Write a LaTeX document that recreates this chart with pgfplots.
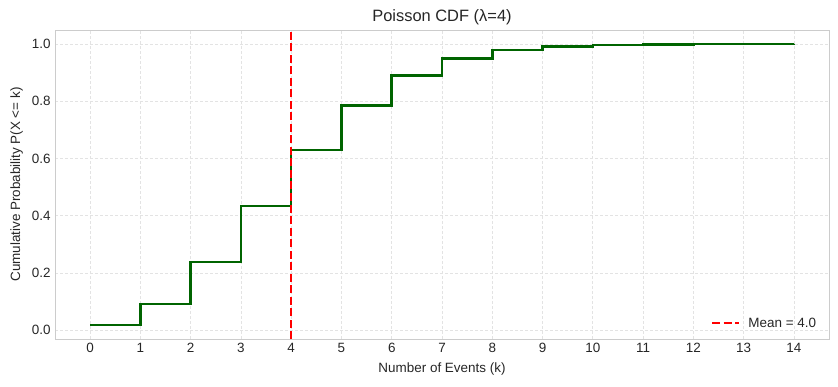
\documentclass[border=0pt]{standalone}
\usepackage{pgfplots}
\pgfplotsset{compat=1.18}
\usepackage{fontspec}
\setmainfont{Liberation Sans}
\definecolor{txt}{HTML}{262626}
\definecolor{frame}{HTML}{CCCCCC}
\definecolor{gridc}{HTML}{E3E3E3}
\definecolor{cdfgreen}{HTML}{006400}
\begin{document}
\begin{tikzpicture}[x=1bp,y=1bp]
\useasboundingbox (0,0) rectangle (838,386);
\begin{axis}[
  at={(55bp,47bp)}, anchor=south west,
  scale only axis, width=774bp, height=309bp,
  xmin=-0.7, xmax=14.7, ymin=-0.031, ymax=1.049,
  xtick={0,1,...,14}, ytick={0,0.2,0.4,0.6,0.8,1.0},
  yticklabel style={/pgf/number format/fixed, /pgf/number format/fixed zerofill, /pgf/number format/precision=1, xshift=-1bp},
  /pgf/number format/assume math mode=true,
  tick style={draw=none},
  major tick length=0pt,
  ticklabel style={font=\fontsize{13.5}{16}\selectfont, text=txt},
  xticklabel style={yshift=-1bp},
  axis line style={frame, line width=0.8bp},
  grid=major,
  major grid style={gridc, dash pattern=on 3bp off 2bp, line width=0.6bp},
  xlabel={Number of Events (k)},
  ylabel={Cumulative Probability P(X <= k)},
  label style={font=\fontsize{13.5}{16}\selectfont, text=txt},
  xlabel style={yshift=-3bp},
  ylabel style={yshift=2bp},
  title={Poisson CDF (λ=4)},
  title style={font=\fontsize{16.5}{19}\selectfont, text=txt, yshift=-4bp},
  legend style={at={(0.99,0.02)}, anchor=south east, draw=none, fill=none, font=\fontsize{13.5}{16}\selectfont, text=txt, row sep=2bp},
  legend cell align=left,
  legend image code/.code={\draw[#1] (0bp,0bp) -- (27bp,0bp);},
]
\addplot[const plot, cdfgreen, line width=2.5bp, forget plot] coordinates {
(0,0.0183) (1,0.0916) (2,0.2381) (3,0.4335) (4,0.6288) (5,0.7851)
(6,0.8893) (7,0.9489) (8,0.9786) (9,0.9919) (10,0.9972) (11,0.9991)
(12,0.9997) (13,0.9999) (14,1.0000)};
\addplot[red, line width=2.5bp, dash pattern=on 8bp off 3.5bp] coordinates {(4,-0.031) (4,1.049)};
\addlegendentry{\hspace{6bp}Mean = 4.0}
\end{axis}
\end{tikzpicture}
\end{document}
